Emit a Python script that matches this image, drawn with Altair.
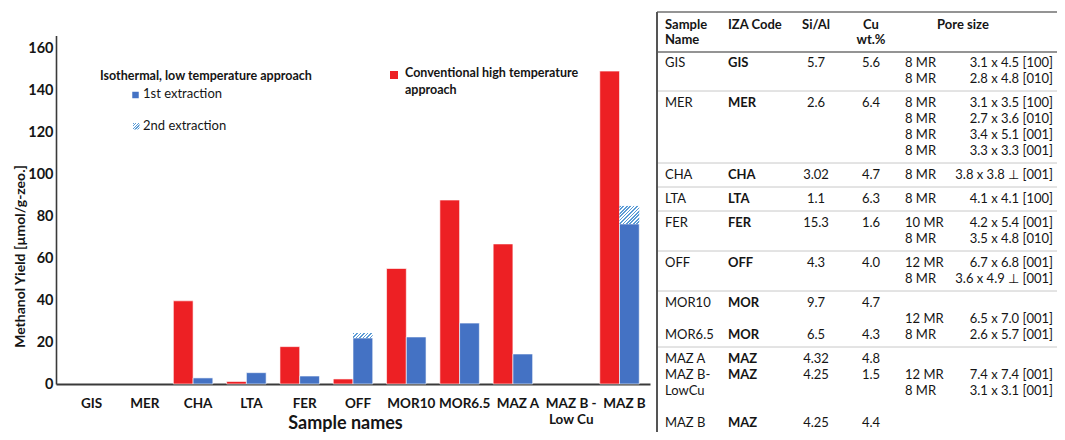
import altair as alt
import pandas as pd

# ---------------- data ----------------
samples = ["GIS", "MER", "CHA", "LTA", "FER", "OFF", "MOR10", "MOR6.5", "MAZ A", "MAZ B - Low Cu", "MAZ B"]
conventional = [0, 0, 39.6, 1.2, 17.8, 2.4, 55.0, 87.6, 66.7, 0, 149.0]
first_extraction = [0, 0, 2.9, 5.4, 3.8, 21.9, 22.4, 29.0, 14.3, 0, 76.2]
second_extraction = [0, 0, 0, 0, 0, 2.4, 0, 0, 0, 0, 8.6]
y_ticks = [0, 20, 40, 60, 80, 100, 120, 140, 160]

y_title = "Methanol Yield [µmol/g-zeo.]"
x_title = "Sample names"
legend_group = "Isothermal, low temperature approach"
legend_first = "1st extraction"
legend_second = "2nd extraction"
legend_conv = ["Conventional high temperature", "approach"]

header_lines = [["Sample", "Name"], ["IZA Code"], ["Si/Al"], ["Cu", "wt.%"], ["Pore size"]]
t_sample = ["GIS", "MER", "CHA", "LTA", "FER", "OFF", "MOR10", "MOR6.5", "MAZ A", "MAZ B-|LowCu", "MAZ B"]
t_iza = ["GIS", "MER", "CHA", "LTA", "FER", "OFF", "MOR", "MOR", "MAZ", "MAZ", "MAZ"]
t_sial = ["5.7", "2.6", "3.02", "1.1", "15.3", "4.3", "9.7", "6.5", "4.32", "4.25", "4.25"]
t_cu = ["5.6", "6.4", "4.7", "6.3", "1.6", "4.0", "4.7", "4.3", "4.8", "1.5", "4.4"]
t_pore_mr = [["8 MR", "8 MR"], ["8 MR", "8 MR", "8 MR", "8 MR"], ["8 MR"], ["8 MR"],
             ["10 MR", "8 MR"], ["12 MR", "8 MR"], ["12 MR", "8 MR"], ["12 MR", "8 MR"]]
t_pore_size = [["3.1 x 4.5 [100]", "2.8 x 4.8 [010]"],
               ["3.1 x 3.5 [100]", "2.7 x 3.6 [010]", "3.4 x 5.1 [001]", "3.3 x 3.3 [001]"],
               ["3.8 x 3.8 \u22a5 [001]"], ["4.1 x 4.1 [100]"],
               ["4.2 x 5.4 [001]", "3.5 x 4.8 [010]"],
               ["6.7 x 6.8 [001]", "3.6 x 4.9 \u22a5 [001]"],
               ["6.5 x 7.0 [001]", "2.6 x 5.7 [001]"],
               ["7.4 x 7.4 [001]", "3.1 x 3.1 [001]"]]

# ---------------- style / layout ----------------
FONT = "Lato"
RED, BLUE, HATCH, TXT = "#ED2024", "#4472C4", "#5B9BD5", "#151515"
PAD_L, PAD_T = 48, 2
W, H = 1001, 422                      # svg = 1049 x 424 -> fits the 1065x440 page with its margins
IMG_W, IMG_H = 8 + PAD_L + W, 8 + PAD_T + H
Y0, PXU, YMAX = 374, 2.1, 166
X_RANGE = [0, 594]
PO, PO2 = 0.072, 0.35
STEP = (X_RANGE[1] - X_RANGE[0]) / (len(samples) + 2 * PO)
BAND = STEP / (2 + 2 * PO2)

n = len(samples)
bars_df = pd.DataFrame({"sample": samples * 2,
                        "series": ["conv"] * n + ["iso"] * n,
                        "value": conventional + first_extraction})
bars_df = bars_df[bars_df["value"] > 0]
hatch_df = pd.DataFrame({"sample": samples, "series": ["iso"] * n,
                         "start": first_extraction,
                         "end": [a + b for a, b in zip(first_extraction, second_extraction)],
                         "extra": second_extraction})

x_axis = alt.Axis(title=x_title, offset=-(H - Y0), labelAngle=0, labelFontSize=13.5,
                  labelFontWeight="bold", labelPadding=12, labelOffset=5, labelOverlap=False,
                  labelExpr="datum.value == 'MAZ B - Low Cu' ? ['MAZ B -', 'Low Cu'] : datum.label",
                  labelLineHeight=16, ticks=False, grid=False, domainColor="#3a3a3a",
                  domainWidth=2, titleFontSize=18, titleFontWeight="bold", titleX=289,
                  titleY=44, titleBaseline="alphabetic", titleAlign="center",
                  labelColor=TXT, titleColor=TXT)
y_axis = alt.Axis(values=y_ticks, title=y_title, titleFontSize=14, titleFontWeight="bold",
                  titleY=246, titleX=-36, titleBaseline="middle", labelFontSize=14.5,
                  labelFontWeight="bold", labelPadding=3, ticks=False, grid=False,
                  domainColor="#3a3a3a", domainWidth=1.6, labelColor=TXT, titleColor=TXT)

x_scale = alt.Scale(domain=samples, range=X_RANGE, paddingInner=0, paddingOuter=PO)
xo_scale = alt.Scale(domain=["conv", "iso"], paddingInner=0, paddingOuter=PO2)
y_scale = alt.Scale(domain=[0, YMAX], range=[Y0, Y0 - YMAX * PXU], nice=False, zero=True)

x_enc = alt.X("sample:N", sort=samples, scale=x_scale, axis=x_axis)
xo_enc = alt.XOffset("series:N", scale=xo_scale)


def stripes(w, h, period=3.6):
    r = h / w
    k = (1 + r) / (1 + r * r)
    m = max(1, round((w + h) / period))
    stops = []
    for i in range(m):
        a, b, c = i / m, (i + 0.5) / m, (i + 1) / m
        stops += [alt.GradientStop(offset=a, color=HATCH), alt.GradientStop(offset=b, color=HATCH),
                  alt.GradientStop(offset=b, color="white"), alt.GradientStop(offset=c, color="white")]
    return alt.LinearGradient(gradient="linear", stops=stops, x1=0, y1=0, x2=k, y2=k * r)


bars = alt.Chart(bars_df).mark_bar(stroke="white", strokeWidth=0.6).encode(
    x=x_enc, xOffset=xo_enc,
    y=alt.Y("value:Q", scale=y_scale, axis=y_axis, stack=None),
    color=alt.Color("series:N", scale=alt.Scale(domain=["conv", "iso"], range=[RED, BLUE]), legend=None),
)

layers = [bars]
for s, extra in zip(samples, second_extraction):
    if extra > 0:
        grad = stripes(BAND, extra * PXU)
        layers.append(
            alt.Chart(hatch_df).transform_filter(alt.datum.sample == s).mark_bar(color=grad).encode(
                x=x_enc, xOffset=xo_enc,
                y=alt.Y("start:Q", scale=y_scale, axis=y_axis), y2="end:Q"))


def label(text, x, y, size=13, bold=False):
    return alt.Chart(pd.DataFrame({"t": [text]})).mark_text(
        align="left", baseline="middle", font=FONT, fontSize=size,
        fontWeight="bold" if bold else "normal", color=TXT).encode(
        x=alt.value(x), y=alt.value(y), text="t:N")


one = pd.DataFrame({"k": [0]})
layers += [
    label(legend_group, 44, 66, 12.5, True),
    alt.Chart(one).mark_square(size=42, color=BLUE, opacity=1).encode(x=alt.value(79.5), y=alt.value(85)),
    label(legend_first, 87, 84, 13),
    alt.Chart(one).mark_rect(color=stripes(6.5, 6.5, 2.6)).encode(
        x=alt.value(77), x2=alt.value(83.5), y=alt.value(113), y2=alt.value(119.5)),
    label(legend_second, 87, 116, 13),
    alt.Chart(one).mark_square(size=64, color=RED, opacity=1).encode(x=alt.value(338), y=alt.value(65)),
    label(legend_conv[0], 349, 63, 12.5, True),
    label(legend_conv[1], 349, 80, 12.5, True),
]
plot = alt.layer(*layers)

# ---------------- table ----------------
COLS = {"sample": (665, "left"), "iza": (728, "left"), "sial": (816, "center"),
        "cu": (871, "center"), "mr": (905, "left"), "pore": (1053, "right"),
        "porehead": (963, "center")}
rows = []


def add(text, col, y, bold=False):
    x, align = COLS[col]
    rows.append({"x": x, "y": y, "text": text, "align": align, "bold": bold})


for col, lines in zip(["sample", "iza", "sial", "cu", "porehead"], header_lines):
    for i, t in enumerate(lines):
        add(t, col, 25 + i * 15, bold=True)

GROUPS = [([0], [0], 0), ([1], [0], 0), ([2], [0], 0), ([3], [0], 0), ([4], [0], 0),
          ([5], [0], 0), ([6, 7], [0, 2], 1), ([8, 9, 10], [0, 1, 4], 1)]
LINE_H, GAP = 16, 24
y = 63
seps = []
for g, (idxs, slots, pstart) in enumerate(GROUPS):
    last = 0
    for i, s in zip(idxs, slots):
        name_lines = t_sample[i].split("|")
        for k, t in enumerate(name_lines):
            add(t, "sample", y + (s + k) * LINE_H)
        add(t_iza[i], "iza", y + s * LINE_H, bold=True)
        add(t_sial[i], "sial", y + s * LINE_H)
        add(t_cu[i], "cu", y + s * LINE_H)
        last = max(last, s + len(name_lines) - 1)
    for k, (mr, sz) in enumerate(zip(t_pore_mr[g], t_pore_size[g])):
        add(mr, "mr", y + (pstart + k) * LINE_H)
        add(sz, "pore", y + (pstart + k) * LINE_H)
        last = max(last, pstart + k)
    y_last = y + last * LINE_H
    seps.append(y_last + GAP / 2)
    y = y_last + GAP

tdf = pd.DataFrame(rows)
TX = alt.Scale(domain=[0, IMG_W], range=[-PAD_L - 8, W], nice=False, zero=False)
TY = alt.Scale(domain=[0, IMG_H], range=[-PAD_T - 8, H], nice=False, zero=False)

tlayers = []
for (align, bold), sub in tdf.groupby(["align", "bold"]):
    tlayers.append(alt.Chart(sub).mark_text(
        align=align, baseline="middle", font=FONT, fontSize=13,
        fontWeight="bold" if bold else "normal", color=TXT).encode(
        x=alt.X("x:Q", scale=TX, axis=None), y=alt.Y("y:Q", scale=TY, axis=None), text="text:N"))

sep_df = pd.DataFrame({"x": [657] * (len(seps) - 1), "x2": [IMG_W] * (len(seps) - 1), "y": seps[:-1]})
tlayers.append(alt.Chart(sep_df).mark_rule(color="#c8c8c8", strokeWidth=1).encode(
    x=alt.X("x:Q", scale=TX, axis=None), x2="x2:Q", y=alt.Y("y:Q", scale=TY, axis=None)))
hframe = pd.DataFrame({"x": [657, 657], "x2": [IMG_W, IMG_W], "y": [12, 52]})
tlayers.append(alt.Chart(hframe).mark_rule(color="#707070", strokeWidth=1.5).encode(
    x=alt.X("x:Q", scale=TX, axis=None), x2="x2:Q", y=alt.Y("y:Q", scale=TY, axis=None)))
vframe = pd.DataFrame({"x": [657], "y": [12], "y2": [IMG_H]})
tlayers.append(alt.Chart(vframe).mark_rule(color="#555555", strokeWidth=2).encode(
    x=alt.X("x:Q", scale=TX, axis=None), y=alt.Y("y:Q", scale=TY, axis=None), y2="y2:Q"))
table = alt.layer(*tlayers)

chart = alt.layer(plot, table).resolve_scale(x="independent", y="independent").properties(
    width=W, height=H, autosize=alt.AutoSizeParams(type="none"),
    padding={"left": PAD_L, "top": PAD_T, "right": 0, "bottom": 0},
).configure(font=FONT).configure_view(stroke=None)

chart.save("out.html", embed_options={"renderer": "svg", "actions": False})
